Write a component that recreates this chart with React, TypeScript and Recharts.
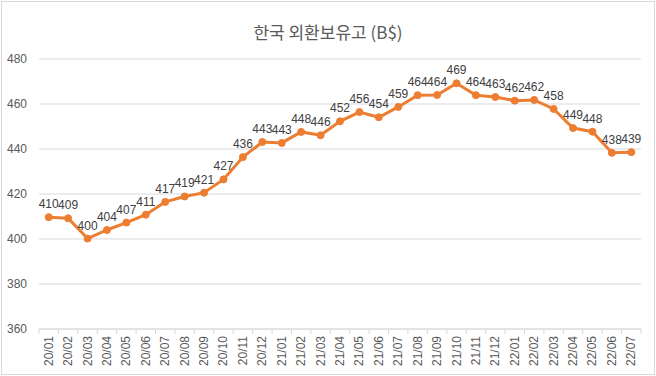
import { LineChart, Line, XAxis, YAxis, CartesianGrid, LabelList } from 'recharts'

const months = [
  '20/01', '20/02', '20/03', '20/04', '20/05', '20/06', '20/07', '20/08', '20/09', '20/10', '20/11', '20/12',
  '21/01', '21/02', '21/03', '21/04', '21/05', '21/06', '21/07', '21/08', '21/09', '21/10', '21/11', '21/12',
  '22/01', '22/02', '22/03', '22/04', '22/05', '22/06', '22/07',
]

const reserves = [
  409.7, 409.2, 400.2, 404.0, 407.3, 410.8, 416.5, 418.9, 420.6, 426.5, 436.4, 443.1,
  442.7, 447.6, 446.1, 452.3, 456.4, 454.1, 458.7, 463.9, 464.0, 469.2, 463.9, 463.1,
  461.5, 461.8, 457.8, 449.3, 447.7, 438.3, 438.6,
]

const yTicks = [360, 380, 400, 420, 440, 460, 480]

const data = months.map((m, i) => ({ month: m, value: reserves[i] }))

const W = 656
const H = 376
const PLOT_LEFT = 39
const PLOT_RIGHT = 641
const PLOT_TOP = 59
const PLOT_BOTTOM = 329
const step = (PLOT_RIGHT - PLOT_LEFT) / months.length

// x tick: rotated label plus a tick mark between categories (Excel style)
function MonthTick(props: any) {
  const { x, payload, index } = props
  const left = x - step / 2
  return (
    <g>
      <line x1={left} y1={PLOT_BOTTOM} x2={left} y2={PLOT_BOTTOM + 5} stroke="#d9d9d9" />
      {index === months.length - 1 && (
        <line x1={x + step / 2} y1={PLOT_BOTTOM} x2={x + step / 2} y2={PLOT_BOTTOM + 5} stroke="#d9d9d9" />
      )}
      <text
        transform={`translate(${x + 4},${PLOT_BOTTOM + 7}) rotate(-90)`}
        textAnchor="end"
        fontSize={12}
        fill="#595959"
        fontFamily="Liberation Sans, sans-serif"
      >
        {payload.value}
      </text>
    </g>
  )
}

export default function App() {
  return (
    <div style={{ position: 'absolute', left: 0, top: 0, width: W, height: H, background: '#fff' }}>
      <div
        style={{
          position: 'absolute', left: 1, top: 1, width: W - 4, height: H - 4,
          border: '1px solid #d9d9d9',
        }}
      />
      <div
        style={{
          position: 'absolute', left: 0, top: 19, width: W, textAlign: 'center',
          fontFamily: '"Noto Sans CJK KR", sans-serif', fontSize: 17, color: '#595959',
        }}
      >
        한국 외환보유고 (B$)
      </div>
      <div style={{ position: 'absolute', left: 0, top: 0 }}>
        <LineChart
          width={W}
          height={H}
          data={data}
          margin={{ top: PLOT_TOP, right: W - PLOT_RIGHT, bottom: 0, left: 0 }}
        >
          <CartesianGrid vertical={false} stroke="#d9d9d9" />
          <XAxis
            dataKey="month"
            interval={0}
            height={H - PLOT_BOTTOM}
            padding={{ left: step / 2, right: step / 2 }}
            axisLine={{ stroke: '#d9d9d9' }}
            tickLine={false}
            tick={<MonthTick />}
          />
          <YAxis
            width={PLOT_LEFT}
            domain={[360, 480]}
            ticks={yTicks}
            axisLine={false}
            tickLine={false}
            tickMargin={6}
            tick={{ fontSize: 12, fill: '#595959', fontFamily: 'Liberation Sans, sans-serif' }}
          />
          <Line
            type="linear"
            dataKey="value"
            stroke="#ed7d31"
            strokeWidth={3}
            dot={{ r: 3.5, fill: '#ed7d31', stroke: '#ed7d31', strokeWidth: 1 }}
            isAnimationActive={false}
          >
            <LabelList
              dataKey="value"
              position="top"
              offset={9}
              formatter={(v: any) => Math.round(Number(v))}
              style={{ fontSize: 12, fill: '#404040', fontFamily: 'Liberation Sans, sans-serif' }}
            />
          </Line>
        </LineChart>
      </div>
    </div>
  )
}
